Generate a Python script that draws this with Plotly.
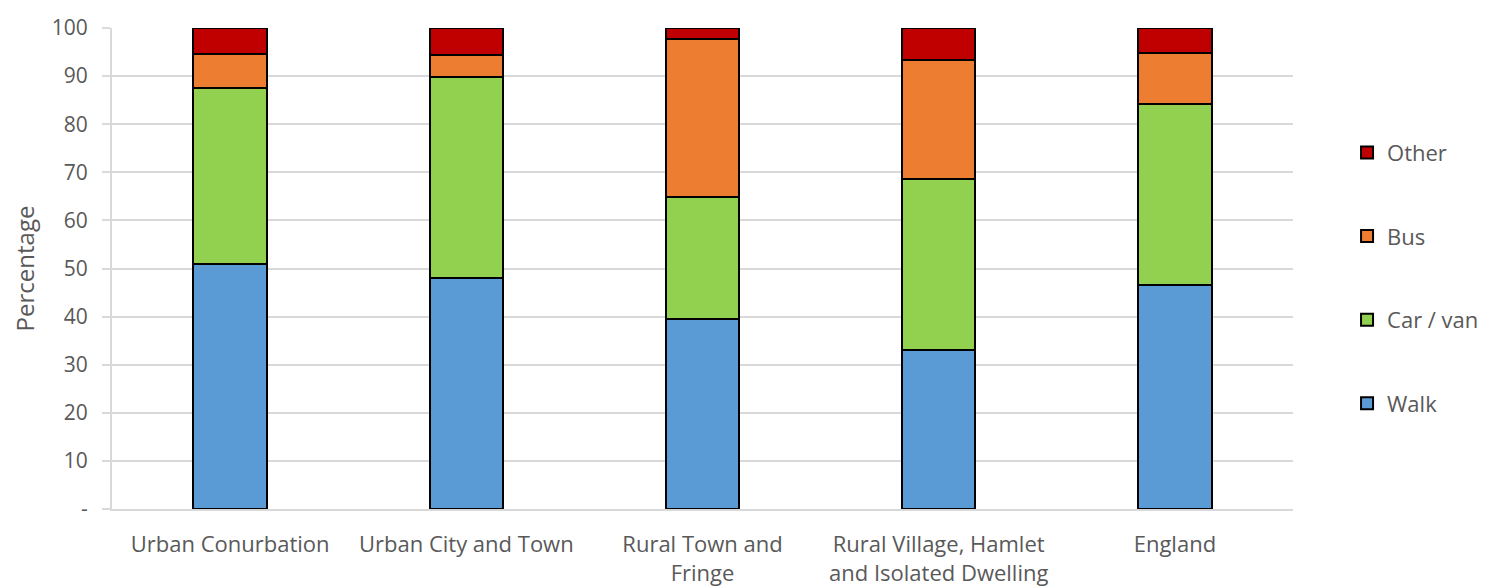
import plotly.graph_objects as go

categories = ["Urban Conurbation", "Urban City and Town", "Rural Town and<br>Fringe",
              "Rural Village, Hamlet<br>and Isolated Dwelling", "England"]
walk = [51.0, 48.0, 39.5, 33.1, 46.6]
car_van = [36.5, 41.8, 25.4, 35.6, 37.7]
bus = [7.1, 4.6, 32.8, 24.6, 10.5]
other = [5.4, 5.6, 2.3, 6.7, 5.2]

series = [("Walk", walk, "#5b9bd5", 4), ("Car / van", car_van, "#92d050", 3),
          ("Bus", bus, "#ed7d31", 2), ("Other", other, "#c00000", 1)]

tick_vals = [0, 10, 20, 30, 40, 50, 60, 70, 80, 90, 100]
tick_text = ["-", "10", "20", "30", "40", "50", "60", "70", "80", "90", "100"]

font_family = "Open Sans, Liberation Sans, sans-serif"
grey = "#595959"

fig = go.Figure()
for name, vals, color, rank in series:
    fig.add_trace(go.Bar(
        x=categories, y=vals, name=name, legendgroup=name, legendrank=rank,
        marker=dict(color=color, line=dict(color="black", width=2)),
        width=0.31,
    ))

fig.update_layout(
    barmode="stack",
    width=1477, height=578,
    margin=dict(l=104, r=192, t=20, b=77),
    plot_bgcolor="white", paper_bgcolor="white",
    font=dict(family=font_family, size=21, color=grey),
    legend=dict(xref="container", yref="container", x=0.9066, y=0.536,
                xanchor="left", yanchor="middle",
                traceorder="grouped", tracegroupgap=52,
                font=dict(size=22, color=grey)),
    showlegend=True,
)
fig.update_xaxes(showline=True, linecolor="#d9d9d9", linewidth=2, automargin=False,
                 tickfont=dict(size=22, color=grey), ticks="", ticklabelstandoff=15)
fig.update_yaxes(range=[0, 100], tickvals=tick_vals, ticktext=tick_text,
                 showgrid=True, gridcolor="#d9d9d9", gridwidth=2,
                 showline=True, linecolor="#d9d9d9", linewidth=2,
                 zeroline=False, ticks="outside", ticklen=8, tickwidth=2,
                 tickcolor="#d9d9d9", ticklabelstandoff=10, automargin=False,
                 tickfont=dict(size=21, color=grey),
                 title=dict(text="Percentage", font=dict(size=24, color=grey), standoff=20))

fig.write_html("out.html")
